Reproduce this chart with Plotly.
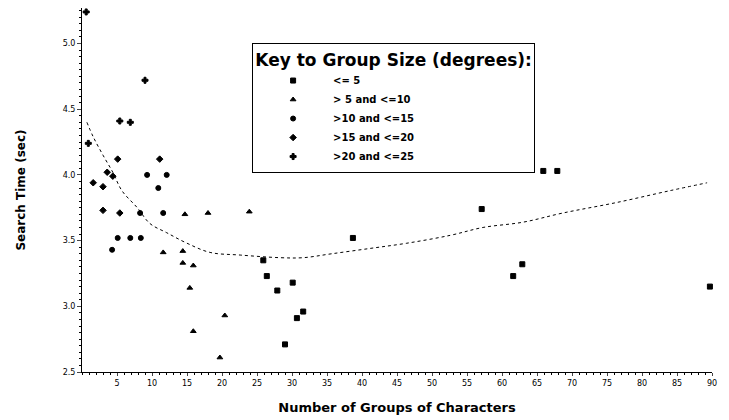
import plotly.graph_objects as go

# ---- data ----
# fitted curve (number of groups -> search time)
curve_x = [0.7, 1.6, 3.0, 4.4, 5.7, 7.9, 9.7, 12.1, 15.0, 18.3, 22.6, 28.3, 31.6,
           35.7, 41.1, 46.4, 52.6, 57.3, 63.0, 68.7, 76.4, 84.0, 89.3]
curve_y = [4.40, 4.29, 4.15, 4.02, 3.88, 3.75, 3.63, 3.56, 3.48, 3.41, 3.39, 3.37, 3.37,
           3.40, 3.44, 3.48, 3.54, 3.60, 3.64, 3.71, 3.79, 3.88, 3.94]

# observed points by group size category
g1_x = [25.9, 26.4, 30.1, 27.9, 31.6, 30.7, 29.0, 38.7, 57.1, 62.9, 61.6, 65.9, 67.9, 89.7]
g1_y = [3.35, 3.23, 3.18, 3.12, 2.96, 2.91, 2.71, 3.52, 3.74, 3.32, 3.23, 4.03, 4.03, 3.15]

g2_x = [11.6, 14.4, 14.4, 15.9, 15.4, 20.4, 15.9, 19.7, 23.9, 18.0, 14.7]
g2_y = [3.41, 3.42, 3.33, 3.31, 3.14, 2.93, 2.81, 2.61, 3.72, 3.71, 3.70]

g3_x = [5.1, 6.9, 8.4, 4.3, 8.3, 11.6, 10.9, 12.1, 9.3]
g3_y = [3.52, 3.52, 3.52, 3.43, 3.71, 3.71, 3.90, 4.00, 4.00]

g4_x = [3.0, 5.4, 3.0, 1.6, 4.4, 3.6, 11.1, 5.1]
g4_y = [3.73, 3.71, 3.91, 3.94, 3.99, 4.02, 4.12, 4.12]

g5_x = [0.6, 9.0, 5.4, 6.9, 0.9]
g5_y = [5.24, 4.72, 4.41, 4.40, 4.24]

group_names = ["<= 5", "> 5 and <=10", ">10 and <=15", ">15 and <=20", ">20 and <=25"]
group_symbols = ["square", "triangle-up", "circle", "diamond", "cross"]

x_ticks = list(range(5, 95, 5))
y_ticks = [2.5, 3.0, 3.5, 4.0, 4.5, 5.0]

fig = go.Figure()
fig.add_trace(go.Scatter(x=curve_x, y=curve_y, mode="lines", showlegend=False,
                         line=dict(color="black", width=1, dash="dot", shape="spline")))

groups = [(g1_x, g1_y), (g2_x, g2_y), (g3_x, g3_y), (g4_x, g4_y), (g5_x, g5_y)]
for (gx, gy), name, sym in zip(groups, group_names, group_symbols):
    fig.add_trace(go.Scatter(x=gx, y=gy, mode="markers", name=name, cliponaxis=False,
                             marker=dict(symbol=sym, size=5, color="black",
                                         line=dict(color="black", width=1))))

fig.update_layout(
    width=721, height=412,
    margin=dict(l=74, r=17, t=0, b=48),
    plot_bgcolor="white", paper_bgcolor="white",
    font=dict(family="DejaVu Sans", color="black", size=8),
    legend=dict(
        x=0.27, y=0.904, xanchor="left", yanchor="top",
        bordercolor="black", borderwidth=1, bgcolor="white",
        font=dict(size=10, family="DejaVu Sans", color="black", weight="bold"),
        title=dict(text="<b>Key to Group Size (degrees):</b>", side="top center",
                   font=dict(size=17)),
        itemsizing="trace", tracegroupgap=0, itemwidth=70,
    ),
    xaxis=dict(range=[0, 90], tickvals=x_ticks, showgrid=False, zeroline=False,
               showline=True, linecolor="black", linewidth=1,
               ticks="outside", ticklen=3, tickfont=dict(size=8),
               minor=dict(dtick=1, ticks="outside", ticklen=2, tickcolor="black"),
               title=dict(text="<b>Number of Groups of Characters</b>",
                          font=dict(size=13), standoff=16)),
    yaxis=dict(range=[2.5, 5.27], tickvals=y_ticks, tickformat=".1f", showgrid=False,
               zeroline=False, showline=True, linecolor="black", linewidth=1,
               ticks="outside", ticklen=4, tickfont=dict(size=8),
               minor=dict(dtick=0.05, ticks="outside", ticklen=2, tickcolor="black"),
               title=dict(text="<b>Search Time (sec)</b>", font=dict(size=12),
                          standoff=34)),
)

fig.write_html("out.html")
